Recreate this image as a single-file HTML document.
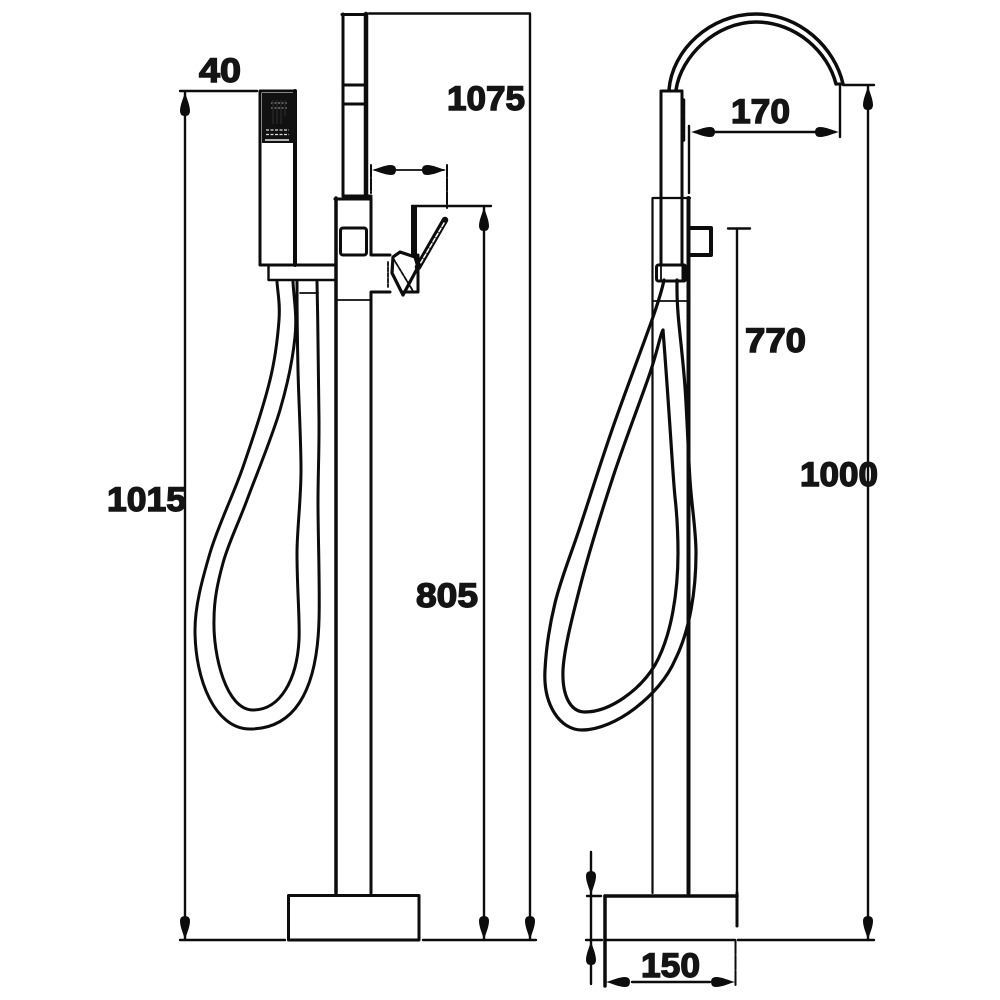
<!DOCTYPE html>
<html><head><meta charset="utf-8"><style>
html,body{margin:0;padding:0;background:#fff}
svg{display:block}
text{font-family:"Liberation Sans",sans-serif;font-weight:700;font-size:34px;fill:#141414;stroke:#141414;stroke-width:1.4px}
</style></head><body>
<svg width="1000" height="1000" viewBox="0 0 1000 1000" xmlns="http://www.w3.org/2000/svg">
<defs><path id="a" d="M0 0C-1.500 6 -5 13 -5 19Q-5 24 0 24Q5 24 5 19C5 13 1.500 6 0 0Z" fill="#0c0c0c"/></defs>
<g fill="none" stroke="#0c0c0c" stroke-width="2.400" stroke-linecap="round" stroke-linejoin="round">
<!-- left view: dimension lines -->
<path d="M180 91H257M185 91V940M180 940H285M423 940H536M369 13.500H530M530 14V940M412 206H491M484 206V940"/>
<!-- upper tube -->
<path d="M343 14V196" stroke-width="3"/><path d="M366 14V196" stroke-width="4.500"/>
<path d="M342 14.500H366M343 85H366M343 104H366M343 196H371" stroke-width="3"/>
<!-- valve body -->
<path d="M336 198V893" stroke-width="3.500"/><path d="M371 198V255H390M372 292H390M371 292V893M335 199H371" stroke-width="3"/>
<path d="M336 300H371" stroke-width="1.800"/>
<rect x="340.500" y="228" width="26" height="27" rx="2.500" stroke-width="3"/>
<!-- small top dimension -->
<path d="M371 165V193M447 165V208" stroke-width="2" stroke-dasharray="12 1.500"/><path d="M375 170H444" stroke-width="1.800"/>
<!-- lever -->
<path d="M400 252L415 257L418 267L403 295L392 273L393 257Z" stroke-width="3.200"/>
<path d="M393 258L413 291M388 262V287" stroke-width="1.800" stroke-dasharray="4 1.500"/>
<path d="M418 255V292H402" stroke-width="3"/>
<path d="M414 207V256" stroke-width="6" stroke-linecap="butt"/>
<path d="M445 220L418 267" stroke-width="6.500"/><path d="M444 223L420 264" stroke="#fff" stroke-width="1.500" stroke-dasharray="4 2"/>
<!-- handset -->
<path d="M260 91V265H335M260 91H295" stroke-width="3"/><path d="M295 91V265" stroke-width="4"/>
<path d="M268.500 266V280H335" stroke-width="2.400"/>
<path d="M300 293H318" stroke-width="1.800"/>
<!-- left hose -->
<path d="M277 282C278 295 280.200 303.700 279 320S276 355.500 270 380S253 438.200 243 467S218 525.800 210 553S195 606 195 630C195 680 215 729 250 729C292 729 317 695 319 620C320 590 318 535 318 503S319.200 456.800 319 420S318 330 317 282" stroke-width="3"/>
<path d="M293 282C294 300 297.200 315.700 295 337S288 382.800 280 410S256.500 474.500 247 500S228.500 543 223 563S214 600 214 620C213 655 226 710 253 710C280 710 297 680 299 640C300 620 297 590 297 553C297 530 301 500 301 470S298.700 401.300 298 370S297 320 297 282" stroke-width="3"/>
<!-- left base -->
<rect x="288.500" y="895.500" width="130.500" height="44.500" stroke-width="3"/>

<!-- right view: spout -->
<path d="M669 90C672 50 710 14 756 14C800 14 835 48 843 84" stroke-width="3.500"/>
<path d="M676 90C681 56 716 22 756 22C796 22 828 52 836 84" stroke-width="3.500"/>
<path d="M836 84H843" stroke-width="3"/>
<path d="M661 91H682M661 91V265" stroke-width="3"/><path d="M682 91V265" stroke-width="3"/>
<path d="M683.500 100V140" stroke-width="3.500" stroke-dasharray="7 1.500"/>
<!-- dims -->
<path d="M843 85H874M868 85V940M738 940H874M840 85V137M689 126V193M695 132H835M728 228.500H750M737 229V926"/>
<!-- body -->
<path d="M652.500 198V893" stroke-width="2.200"/><path d="M653 198H690" stroke-width="2.200"/><path d="M688.500 198V893" stroke-width="4"/>
<path d="M690 228H711V255H690" stroke-width="4"/>
<rect x="656.500" y="265" width="29" height="16" rx="2" stroke-width="3"/>
<path d="M684 266V280" stroke-width="5"/>
<path d="M661 266V280" stroke-width="1.800"/>
<path d="M653 301H688" stroke-width="1.800"/>
<!-- right hose -->
<path d="M664 280C663 285 661.500 292.500 653 317S625.200 392 613 427S589.700 497.700 580 527S560.800 579.200 555 603S546 650 545 670C543 705 560 730 582 730C615 730 660 695 675 660C690 630 696 590 696 553C696 530 691.800 507.700 690 480S687 414.800 685 387S679.300 330.800 678 313S677 295 677 280" stroke-width="3.200"/>
<path d="M663 330C660 335 658.300 348.500 650 373S624.700 441.300 613 477S588.300 554.800 580 587S564 650 563 670C562 695 570 712 585 712C610 712 640 690 655 665C672 635 678 590 678 553C678 534 677 515 675 497S670 420 663 330Z" stroke-width="3.200"/>
<!-- right base -->
<path d="M605 896V986" stroke-width="3.500"/><path d="M605 896H737" stroke-width="3.500"/><path d="M605 940H735" stroke-width="2.400"/><path d="M737 893V926" stroke-width="3"/>
<path d="M735.500 940V986" stroke-width="2" stroke-dasharray="14 1.500"/>
<path d="M632 982H710"/>
<!-- height dim -->
<path d="M591 852V984"/>
<path d="M587 896H601M586 940H602"/>
</g>
<!-- handset face -->
<rect x="262" y="93" width="34" height="50" fill="#111"/>
<g fill="none" stroke-width="1.200">
<path d="M271 103H288M271 108H288" stroke="#5a5a5a" stroke-dasharray="2 1.500" stroke-width="2"/>
<path d="M273 100V124M277 100V124M281 100V124M285 100V116" stroke="#2a2a2a"/>
<path d="M266 130H289M266 134.500H289" stroke="#ddd" stroke-dasharray="3 1.500"/>
<path d="M265 140H289" stroke="#eee" stroke-width="1.500"/>
</g>
<!-- arrows -->
<use href="#a" transform="translate(185 92)"/>
<use href="#a" transform="translate(185 940) rotate(180)"/>
<use href="#a" transform="translate(484 207)"/>
<use href="#a" transform="translate(484 940) rotate(180)"/>
<use href="#a" transform="translate(530 940) rotate(180)"/>
<use href="#a" transform="translate(868 86)"/>
<use href="#a" transform="translate(868 940) rotate(180)"/>
<use href="#a" transform="translate(691 132) rotate(-90)"/>
<use href="#a" transform="translate(839 132) rotate(90)"/>
<use href="#a" transform="translate(372 170) rotate(-90)"/>
<use href="#a" transform="translate(446 170) rotate(90)"/>
<use href="#a" transform="translate(606 982) rotate(-90)"/>
<use href="#a" transform="translate(735 982) rotate(90)"/>
<use href="#a" transform="translate(591 895) rotate(180)"/>
<use href="#a" transform="translate(591 941)"/>
<!-- labels -->
<text x="199" y="82" textLength="42" lengthAdjust="spacingAndGlyphs">40</text>
<text x="447" y="110" textLength="78" lengthAdjust="spacingAndGlyphs">1075</text>
<text x="731" y="123" textLength="59" lengthAdjust="spacingAndGlyphs">170</text>
<text x="745" y="352" textLength="61" lengthAdjust="spacingAndGlyphs">770</text>
<text x="800" y="486" textLength="78" lengthAdjust="spacingAndGlyphs">1000</text>
<text x="107" y="511" textLength="79" lengthAdjust="spacingAndGlyphs">1015</text>
<text x="416" y="607" textLength="62" lengthAdjust="spacingAndGlyphs">805</text>
<text x="641" y="977" textLength="59" lengthAdjust="spacingAndGlyphs">150</text>
</svg>
</body></html>
